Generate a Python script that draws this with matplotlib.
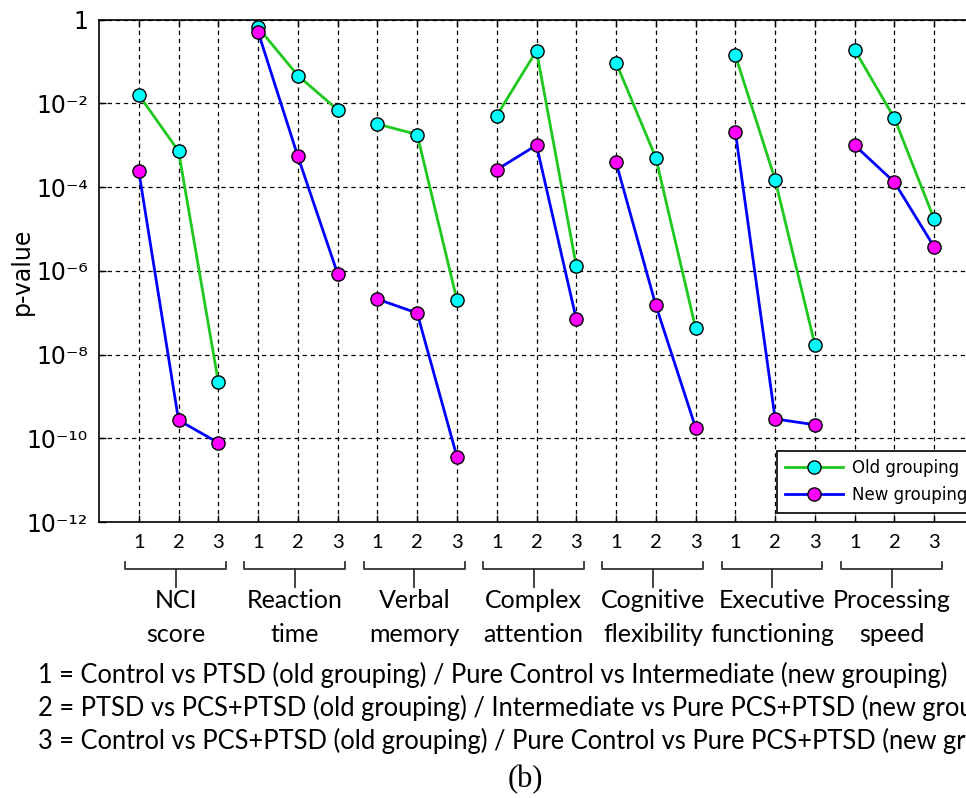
import numpy as np
import matplotlib.pyplot as plt
from matplotlib.transforms import blended_transform_factory

# p-values, 3 comparisons per measure
groups = ['NCI\nscore', 'Reaction\ntime', 'Verbal\nmemory', 'Complex\nattention',
          'Cognitive\nflexibility', 'Executive\nfunctioning', 'Processing\nspeed']
old_p = [0.016, 7.2e-4, 2.2e-9,
         0.65, 0.046, 7.0e-3,
         3.2e-3, 1.8e-3, 2.0e-7,
         5.1e-3, 0.18, 1.3e-6,
         0.094, 5.0e-4, 4.3e-8,
         0.14, 1.5e-4, 1.7e-8,
         0.19, 4.4e-3, 1.7e-5]
new_p = [2.4e-4, 2.7e-10, 7.8e-11,
         0.51, 5.4e-4, 8.5e-7,
         2.1e-7, 9.8e-8, 3.6e-11,
         2.6e-4, 1.0e-3, 7.0e-8,
         3.9e-4, 1.5e-7, 1.8e-10,
         2.1e-3, 2.9e-10, 2.1e-10,
         1.0e-3, 1.3e-4, 3.7e-6]
ytick_vals = [1, 1e-2, 1e-4, 1e-6, 1e-8, 1e-10, 1e-12]
ytick_labels = ['1', '10⁻²', '10⁻⁴', '10⁻⁶', '10⁻⁸', '10⁻¹⁰', '10⁻¹²']
notes = ['1 = Control vs PTSD (old grouping) / Pure Control vs Intermediate (new grouping)',
         '2 = PTSD vs PCS+PTSD (old grouping) / Intermediate vs Pure PCS+PTSD (new grouping)',
         '3 = Control vs PCS+PTSD (old grouping) / Pure Control vs Pure PCS+PTSD (new grouping)']

W, H = 966, 798
fig = plt.figure(figsize=(W / 100, H / 100), dpi=100)
ax = fig.add_axes([99 / W, 1 - 522 / H, 875 / W, (522 - 19.6) / H])

green = '#1ec81e'
for g in range(len(groups)):
    xs = np.arange(1, 4) + 3 * g
    ax.plot(xs, old_p[3 * g:3 * g + 3], '-o', color=green, lw=2, ms=9.5,
            mfc='#00ffff', mec='black', mew=1, label='Old grouping' if g == 0 else None, zorder=3)
    ax.plot(xs, new_p[3 * g:3 * g + 3], '-o', color='#0000ff', lw=2, ms=9.5,
            mfc='#ff00ff', mec='black', mew=1, label='New grouping' if g == 0 else None, zorder=3)

ax.set_yscale('log')
ax.set_ylim(1e-12, 1)
ax.set_xlim(0, 22)
ax.set_yticks(ytick_vals)
ax.set_yticklabels(ytick_labels)
ax.yaxis.set_minor_locator(plt.NullLocator())
ax.set_xticks(np.arange(1, 22))
ax.set_xticklabels(['1', '2', '3'] * 7, family='Lato', fontsize=14.5)
ax.tick_params(axis='y', labelsize=17, pad=8)
ax.tick_params(direction='in', length=5, width=1, top=True, right=True, colors='black')
ax.tick_params(axis='x', pad=9)
ax.grid(True, color='black', lw=0.9, linestyle=(0, (3.5, 3)))
ax.set_axisbelow(True)
for s in ax.spines.values():
    s.set_linewidth(1.2)

fig.text(22 / W, 1 - 271 / H, 'p-value', rotation=90, ha='center', va='center', fontsize=17)

leg = ax.legend(loc='upper left', bbox_to_anchor=(776.7 / W, 1 - 450.7 / H),
                bbox_transform=fig.transFigure, fontsize=12, handlelength=3.5,
                borderpad=0.5, handletextpad=0.5, labelspacing=0.55, borderaxespad=0,
                fancybox=False, framealpha=1, edgecolor='black')
leg.get_frame().set_linewidth(1.2)

# brackets under each group of three
tr = blended_transform_factory(ax.transData, fig.transFigure)
def fy(px):
    return 1 - px / H
for g, name in enumerate(groups):
    c = 3 * g + 2
    x0, x1, xm = c - 1.345, c + 1.19, c - 0.07
    ax.plot([x0, x0, x1, x1], [fy(561.7), fy(569), fy(569), fy(561.7)], color='#333333',
            lw=1.3, transform=tr, clip_on=False)
    ax.plot([xm, xm], [fy(569), fy(587)], color='#333333', lw=1.3, transform=tr, clip_on=False)
    top, bot = name.split('\n')
    ax.text(xm, fy(608), top, ha='center', va='baseline', family='Lato', fontsize=18, transform=tr)
    ax.text(xm, fy(642), bot, ha='center', va='baseline', family='Lato', fontsize=18, transform=tr)

for i, line in enumerate(notes):
    fig.text(38 / W, fy(683 + 33 * i), line, ha='left', va='baseline', family='Lato', fontsize=18.4)

fig.text(525 / W, fy(787), '(b)', ha='center', va='baseline', family='Liberation Serif', fontsize=22)

fig.savefig('out.png', dpi=100)
